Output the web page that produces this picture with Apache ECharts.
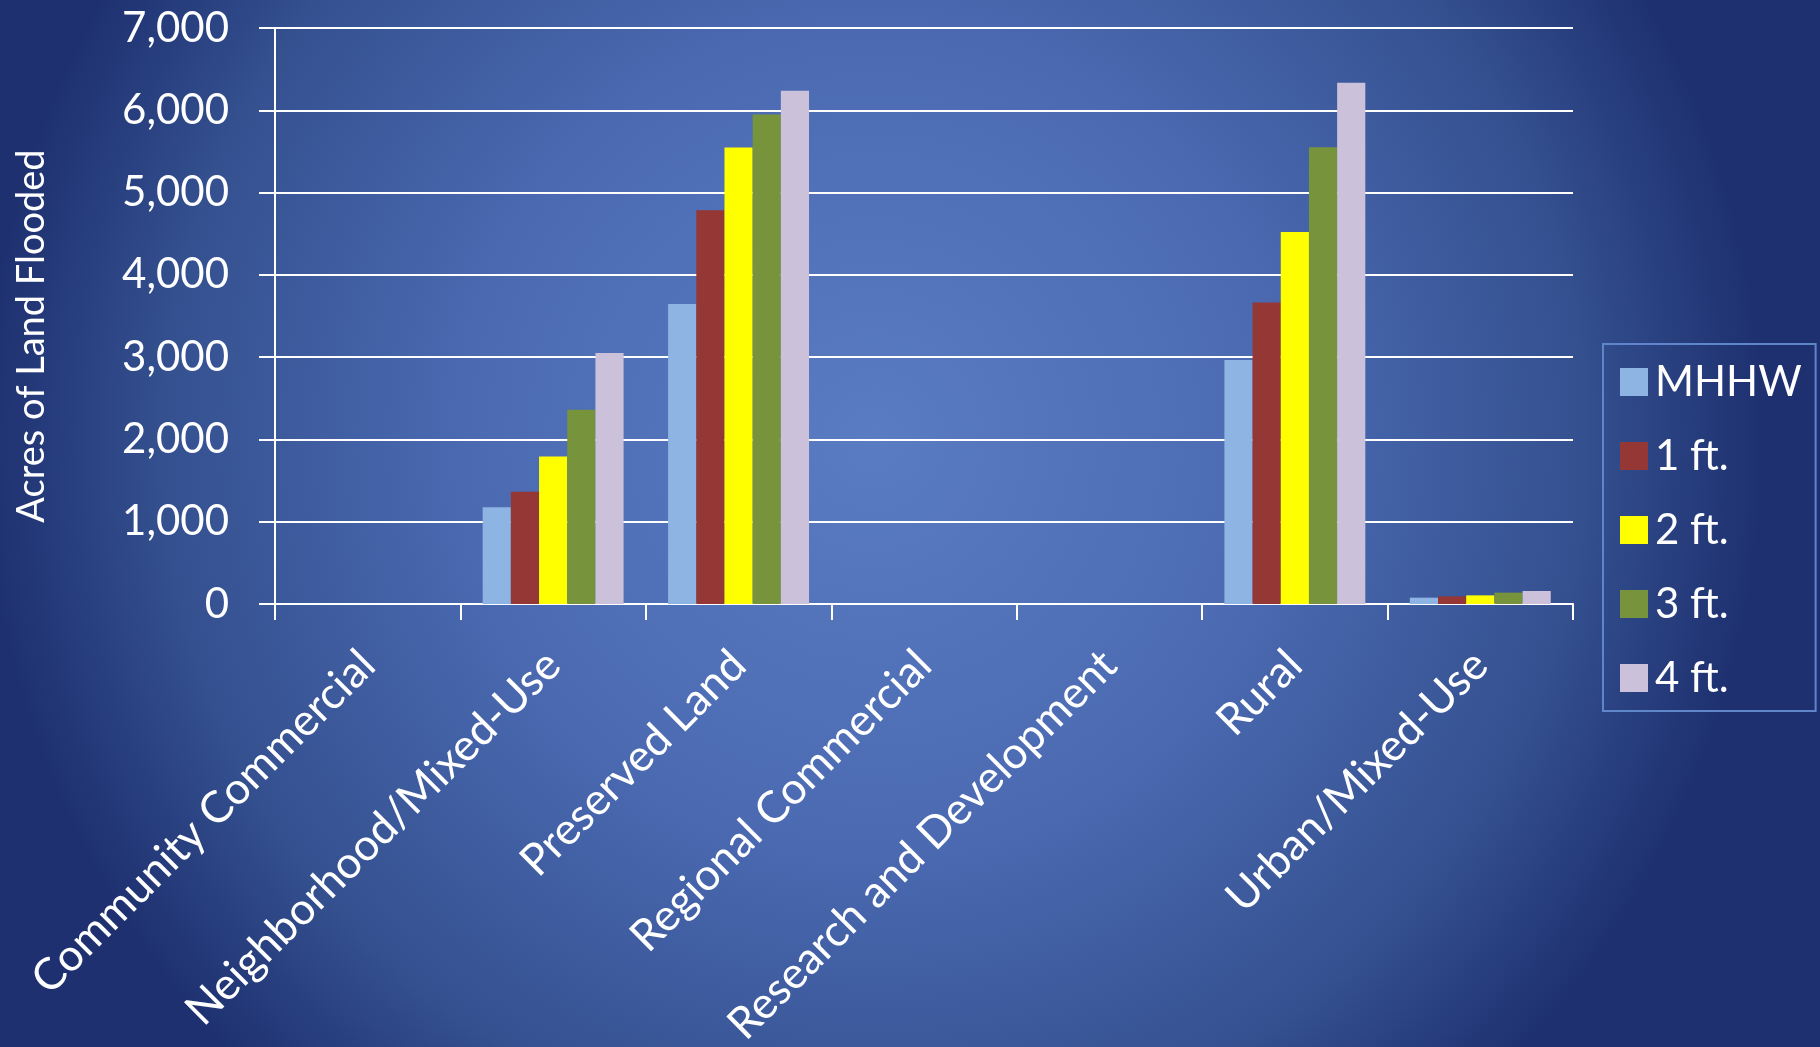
<!DOCTYPE html>
<html><head><meta charset="utf-8">
<script src="https://cdn.jsdelivr.net/npm/echarts@6/dist/echarts.min.js"></script>
<style>html,body{margin:0;padding:0;width:1820px;height:1047px;overflow:hidden;}#c{width:1820px;height:1047px;}</style>
</head><body><div id="c"></div>
<script>
const categories = ["Community Commercial","Neighborhood/Mixed-Use","Preserved Land","Regional Commercial","Research and Development","Rural","Urban/Mixed-Use"];
const seriesNames = ["MHHW","1 ft.","2 ft.","3 ft.","4 ft."];
const mhhw = [0, 1176, 3645, 0, 0, 2965, 77];
const ft1  = [0, 1363, 4785, 0, 0, 3665, 93];
const ft2  = [0, 1793, 5548, 0, 0, 4522, 105];
const ft3  = [0, 2362, 5950, 0, 0, 5552, 138];
const ft4  = [0, 3051, 6238, 0, 0, 6335, 158];
const yTicks = [0, 1000, 2000, 3000, 4000, 5000, 6000, 7000];
const colors = ["#8EB4E3","#953735","#FFFF00","#77933C","#CCC1DA"];
const values = [mhhw, ft1, ft2, ft3, ft4];

const FONT = "Lato";
const chart = echarts.init(document.getElementById('c'));
chart.setOption({
  backgroundColor: {
    type: 'radial', x: 0.48, y: 0.42, r: 0.85,
    colorStops: [
      {offset: 0, color: '#5a7cc3'},
      {offset: 0.45, color: '#4b6ab2'},
      {offset: 0.8, color: '#34508f'},
      {offset: 1, color: '#1e3070'}
    ]
  },
  animation: false,
  textStyle: {fontFamily: FONT},
  grid: {left: 275, right: 247, top: 28, bottom: 443, containLabel: false, outerBoundsMode: 'none'},
  legend: {
    orient: 'vertical',
    left: 1603, top: 344,
    itemWidth: 28, itemHeight: 28, itemGap: 32,
    padding: [17, 14, 12, 17],
    borderColor: '#5f86c8', borderWidth: 2,
    icon: 'rect',
    textStyle: {color: '#ffffff', fontSize: 42, fontFamily: FONT, padding: [0,0,0,2]},
    data: seriesNames
  },
  xAxis: {
    type: 'category',
    data: categories,
    axisLine: {show: true, lineStyle: {color: '#ffffff', width: 2}},
    axisTick: {show: true, length: 16, lineStyle: {color: '#ffffff', width: 2}},
    axisLabel: {color: '#ffffff', fontSize: 44, fontFamily: FONT, rotate: 45, margin: 54, interval: 0}
  },
  yAxis: {
    type: 'value', min: 0, max: 7000, interval: 1000,
    name: 'Acres of Land Flooded',
    nameLocation: 'middle', nameGap: 224, nameRotate: 90,
    nameTextStyle: {color: '#ffffff', fontSize: 38, fontFamily: FONT, padding: [0, 40, 0, 0]},
    axisLine: {show: true, lineStyle: {color: '#ffffff', width: 2}},
    axisTick: {show: true, length: 16, lineStyle: {color: '#ffffff', width: 2}},
    splitLine: {show: true, lineStyle: {color: '#ffffff', width: 2}},
    axisLabel: {color: '#ffffff', fontSize: 42, fontFamily: FONT, margin: 46,
      formatter: v => yTicks.includes(v) ? v.toLocaleString('en-US') : ''}
  },
  series: seriesNames.map((n, i) => ({
    name: n, type: 'bar', data: values[i],
    itemStyle: {color: colors[i]},
    barGap: '0%', barCategoryGap: '24%'
  }))
});
</script></body></html>
